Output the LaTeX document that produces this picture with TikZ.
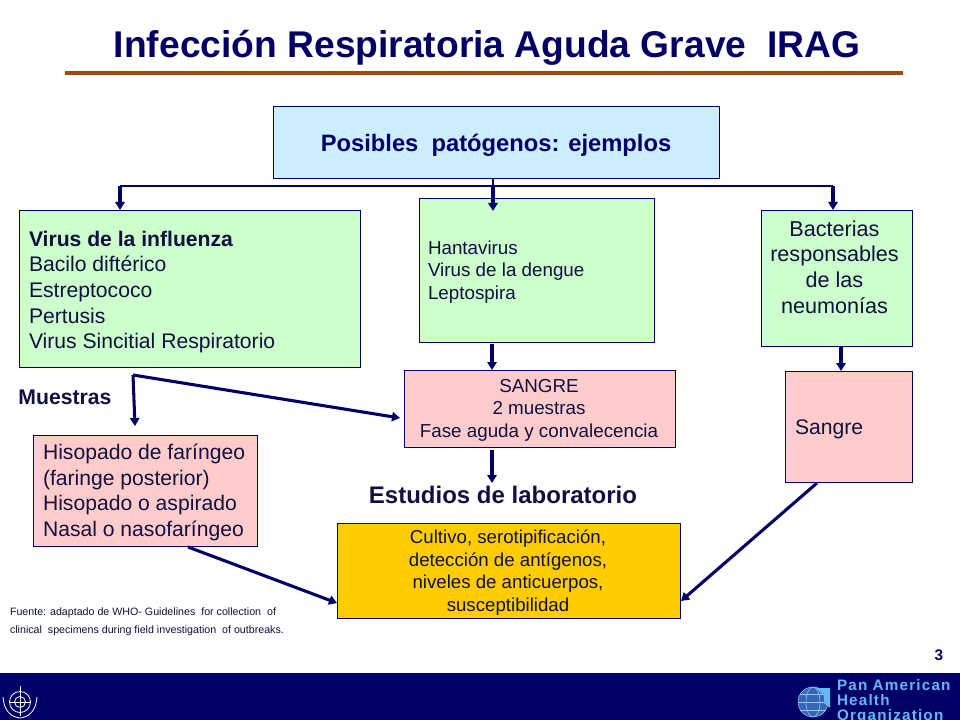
\documentclass[tikz,border=0pt]{standalone}
\usepackage{fontspec}
\setmainfont{Liberation Sans}
\newfontfamily\widefont[LetterSpace=8]{Liberation Sans}
\usetikzlibrary{arrows.meta}
\definecolor{navy}{HTML}{000066}
\definecolor{rulebrown}{HTML}{A0490F}
\definecolor{bluebox}{HTML}{CCECFF}
\definecolor{greenbox}{HTML}{CCFFCC}
\definecolor{pinkbox}{HTML}{FFCCCC}
\definecolor{goldbox}{HTML}{FFCC00}
\definecolor{linktext}{HTML}{66B8F5}
\definecolor{inktext}{HTML}{101040}
\tikzset{
  boxshape/.style={draw=navy,line width=0.7pt,inner sep=0pt,outer sep=0pt},
  conn/.style={draw=navy,line width=2.3pt,-{Triangle[width=7pt,length=6pt]}},
  busline/.style={draw=navy,line width=1pt},
  lab/.style={text=inktext,inner sep=0pt,outer sep=0pt},
  big/.style={font=\fontsize{15.85}{19.2}\selectfont},
  small/.style={font=\fontsize{14.1}{16.8}\selectfont},
}
\begin{document}
\begin{tikzpicture}[x=0.75pt,y=-0.75pt]
\useasboundingbox (0,0) rectangle (960,720);
\fill[white] (0,0) rectangle (960,720);
% footer
\fill[navy] (0,673) rectangle (960,720);
% title
\node[lab,text=navy,font=\bfseries\fontsize{27.9}{32}\selectfont] (title) at (487,48) {Infección Respiratoria Aguda Grave\ \ IRAG};
\coordinate (ruleL) at (65,73);
\coordinate (ruleR) at (903,73);
\draw[rulebrown,line width=2.6pt] (ruleL) -- (ruleR);
% boxes
\node[boxshape,fill=bluebox,minimum width=335pt,minimum height=53.5pt] (top) at (496.5,142.5) {};
\node[boxshape,fill=greenbox,minimum width=255.75pt,minimum height=117.75pt] (vl) at (189.5,288.5) {};
\node[boxshape,fill=greenbox,minimum width=176.25pt,minimum height=108pt] (vm) at (536.5,270) {};
\node[boxshape,fill=greenbox,minimum width=113.25pt,minimum height=102pt] (vr) at (836.5,278) {};
\node[boxshape,fill=pinkbox,minimum width=203.25pt,minimum height=57.75pt] (sm) at (539.5,408.5) {};
\node[boxshape,fill=pinkbox,minimum width=95.25pt,minimum height=83.25pt] (sr) at (848.5,426.5) {};
\node[boxshape,fill=pinkbox,minimum width=168pt,minimum height=83.25pt] (hi) at (145,490.5) {};
\node[boxshape,fill=goldbox,minimum width=257.25pt,minimum height=71.25pt] (cu) at (508.5,570.5) {};
% box texts
\node[lab,text=navy,font=\bfseries\fontsize{17.8}{21}\selectfont] (topt) at (496,145.5) {Posibles\ \ patógenos: ejemplos};
\node[lab,big,anchor=west,align=left] (vlt) at (29,292) {\textbf{Virus de la influenza}\\Bacilo diftérico\\Estreptococo\\Pertusis\\Virus Sincitial Respiratorio};
\node[lab,small,anchor=west,align=left] (vmt) at (428,272) {Hantavirus\\Virus de la dengue\\Leptospira};
\node[lab,align=center,font=\fontsize{16.2}{19.2}\selectfont] (vrt) at (834.5,267) {Bacterias\\responsables\\de las\\neumonías};
\node[lab,small,align=center] (smt) at (539,410) {SANGRE\\2 muestras\\Fase aguda y convalecencia};
\node[lab,big,anchor=west] (srt) at (795,429) {Sangre};
\node[lab,big,anchor=west,align=left] (hit) at (43,492.5) {Hisopado de faríngeo\\(faringe posterior)\\Hisopado o aspirado\\Nasal o nasofaríngeo};
\node[lab,align=center,font=\fontsize{14}{17}\selectfont] (cut) at (508,572.5) {Cultivo, serotipificación,\\detección de antígenos,\\niveles de anticuerpos,\\ susceptibilidad};
% labels
\node[lab,font=\bfseries\fontsize{15.9}{19}\selectfont] (mu) at (65,397) {Muestras};
\node[lab,font=\bfseries\fontsize{18}{21}\selectfont] (es) at (503,495) {Estudios de laboratorio};
\node[lab,anchor=north west,align=left,font=\fontsize{8}{13.5}\selectfont] (fu) at (10,608) {Fuente: adaptado de WHO- Guidelines\ \ for collection\ \ of\\clinical\ \ specimens during field investigation\ \ of outbreaks.};
\node[lab,text=navy,font=\bfseries\fontsize{11.5}{14}\selectfont] (pg) at (939,655) {3};
\node[lab,text=linktext,anchor=north west,align=left,font=\widefont\bfseries\fontsize{11.4}{11.4}\selectfont] (pa) at (837,679) {Pan American\\Health\\Organization};
% bus
\coordinate (busL) at (120,186);
\coordinate (busM) at (493,186);
\coordinate (busR) at (833,186);
\coordinate (busMtip) at (493,211);
\draw[busline] (top.south -| busM) -- (busM);
\draw[busline] (busL) -- (busR);
\draw[conn] (busL) -- (vl.north -| busL);
\draw[conn] (busM) -- (busMtip);
\draw[conn] (busR) -- (vr.north -| busR);
% connectors
\coordinate (c1) at (492,344);
\coordinate (c2) at (841,347);
\coordinate (c3) at (492,450);
\coordinate (c3tip) at (492,483);
\coordinate (c4) at (817,483);
\coordinate (c5) at (188,547);
\coordinate (mfork) at (133,375);
\draw[conn] (c1) -- (sm.north -| c1);
\draw[conn] (c2) -- (sr.north -| c2);
\draw[conn] (c3) -- (c3tip);
\coordinate (cuR) at (681,601);
\coordinate (cuL) at (337,603);
\coordinate (hiT) at (135,426);
\coordinate (smL) at (400,418);
\draw[conn] (c4) -- (cuR);
\draw[conn] (c5) -- (cuL);
\draw[conn] (mfork) -- (hiT);
\draw[conn] (mfork) -- (smL);
% WHO emblem
\begin{scope}[draw=white,line width=0.6pt]
\draw (20,702) circle (10.5);
\draw (20,702) circle (5.5);
\draw (9.5,702) -- (30.5,702);
\draw (20,686) -- (20,716);
\draw (3,697) .. controls (4,711) and (11,717) .. (20,718);
\draw (37,697) .. controls (36,711) and (29,717) .. (20,718);
\end{scope}
% globe emblem
\fill[linktext!55!navy] (813,702) circle (15);
\begin{scope}[draw=linktext!70!white,line width=0.4pt]
\draw (813,702) circle (15);
\draw (813,702) ellipse (7 and 15);
\draw (798,702) -- (828,702);
\draw (800,694) -- (826,694);
\draw (800,710) -- (826,710);
\end{scope}
\fill[linktext] (816,688) -- (830,688) -- (830,708) -- (824,703) -- (824,696) -- cycle;
\end{tikzpicture}
\end{document}
